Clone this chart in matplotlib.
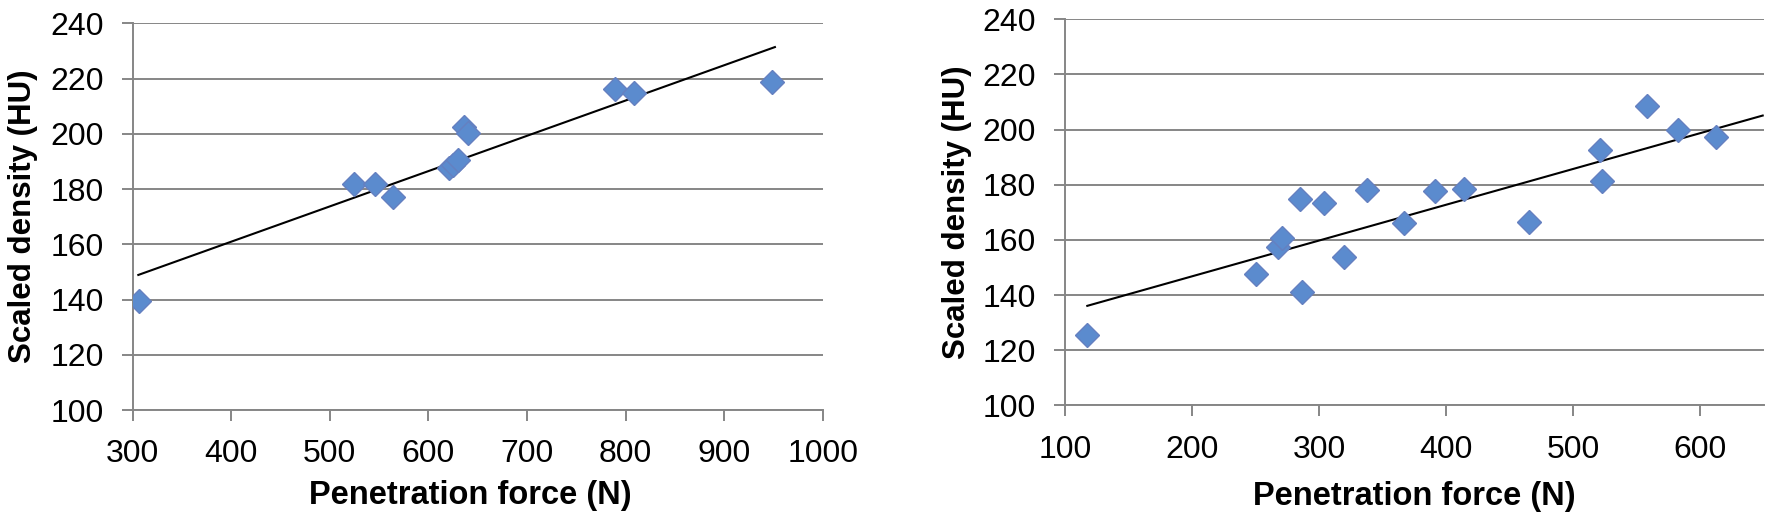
import numpy as np
import matplotlib
matplotlib.use('Agg')
import matplotlib.pyplot as plt

plt.rcParams['font.family'] = ['Liberation Sans', 'DejaVu Sans']

# left panel
force_a = [306.2, 524.1, 546.3, 564.5, 621.0, 625.0, 630.2, 636.3, 640.4, 789.1, 808.3, 948.5]
dens_a = [139.3, 182.0, 181.8, 177.1, 187.6, 188.7, 190.5, 202.6, 200.4, 216.4, 214.8, 218.6]
trend_a_x = [305.7, 951.5]
trend_a_y = [148.9, 231.4]

# right panel
force_b = [116.7, 250.0, 267.7, 270.4, 284.6, 286.1, 303.5, 319.6, 337.5, 366.6,
           391.3, 414.1, 465.1, 520.7, 522.4, 558.3, 582.7, 612.1]
dens_b = [125.7, 147.5, 157.5, 160.6, 175.0, 141.2, 173.5, 153.7, 178.1, 166.1,
          177.7, 178.4, 166.4, 192.5, 181.5, 208.4, 199.8, 197.4]
trend_b_x = [117.3, 649.1]
trend_b_y = [136.1, 205.1]

xticks_a = [300, 400, 500, 600, 700, 800, 900, 1000]
xticks_b = [100, 200, 300, 400, 500, 600]
yticks = [100, 120, 140, 160, 180, 200, 220, 240]

GRAY = '#868686'
FILL = '#5B8BCE'
EDGE = '#6580C0'

fig = plt.figure(figsize=(17.72, 5.30), dpi=100)
ax1 = fig.add_axes([0.07489, 0.2264, 0.3894, 0.7296])
ax2 = fig.add_axes([0.6012, 0.2351, 0.3942, 0.7285])


def style(ax, xs, ys, tx, ty, xticks, xlim, ylab_x, xlab_x, xlab_y):
    ax.plot(tx, ty, color='black', lw=1.5, zorder=3)
    ax.plot(xs, ys, ls='none', marker='D', ms=12.5, mfc=FILL, mec=EDGE, mew=1, zorder=4)
    ax.set_xlim(*xlim)
    ax.set_ylim(100, 240)
    ax.set_xticks(xticks)
    ax.set_yticks(yticks)
    ax.yaxis.grid(True, color=GRAY, lw=1.4)
    ax.set_axisbelow(True)
    for s in ['top', 'right']:
        ax.spines[s].set_visible(False)
    for s in ['left', 'bottom']:
        ax.spines[s].set_color(GRAY)
        ax.spines[s].set_linewidth(1.4)
    ax.tick_params(axis='both', direction='out', length=8, width=1.4, color=GRAY,
                   labelsize=23, pad=13)
    ax.set_ylabel('Scaled density (HU)', fontsize=22.5, fontweight='bold')
    ax.set_xlabel('Penetration force (N)', fontsize=23.5, fontweight='bold')
    ax.yaxis.set_label_coords(ylab_x, 0.5)
    ax.xaxis.set_label_coords(xlab_x, xlab_y)


style(ax1, force_a, dens_a, trend_a_x, trend_a_y, xticks_a, (300, 1000), -0.137, 0.489, -0.18)
style(ax2, force_b, dens_b, trend_b_x, trend_b_y, xticks_b, (100, 650), -0.134, 0.5, -0.195)

fig.savefig('out.png', dpi=100)
